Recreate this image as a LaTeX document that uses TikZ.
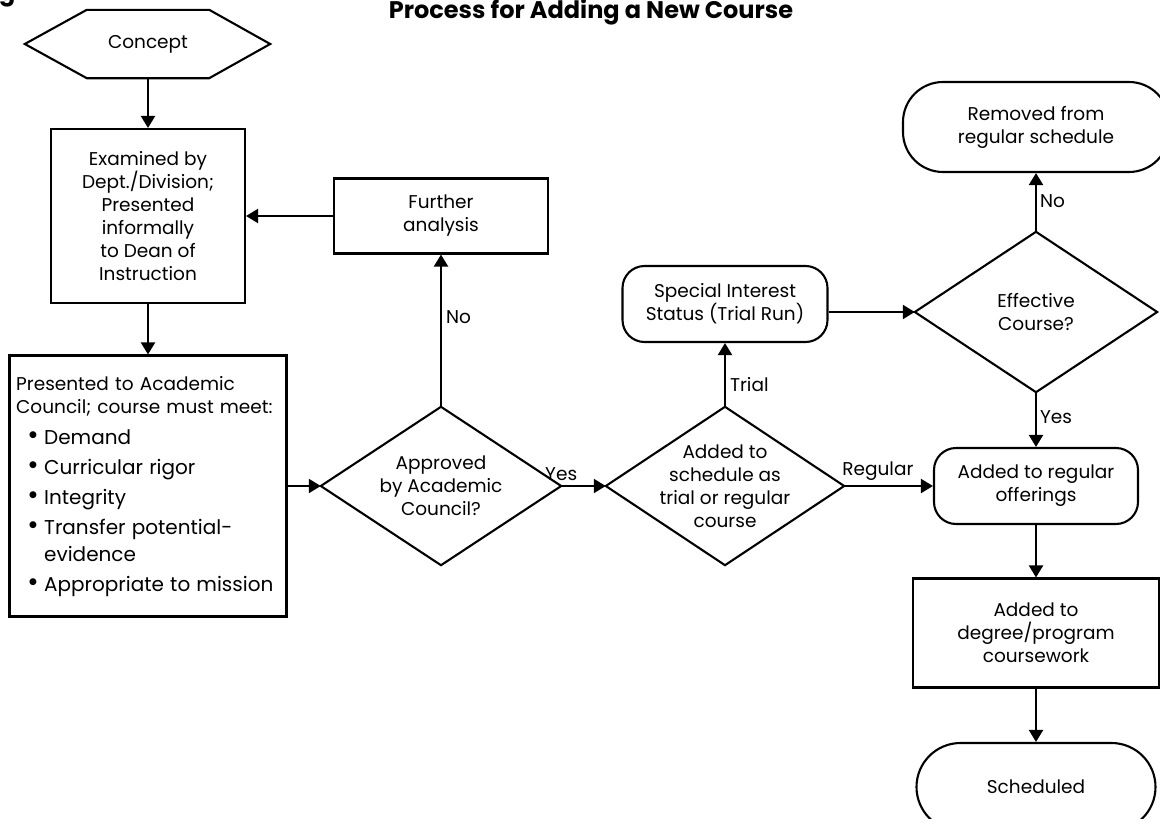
\documentclass[tikz,border=0pt]{standalone}
\usepackage{fontspec}
\setmainfont{Poppins}
\newfontfamily\dvfont{DejaVu Sans}
\usetikzlibrary{arrows.meta}
\newcommand\bul{\makebox[15pt][l]{\raisebox{0.36em}{\dvfont\fontsize{9}{9}\selectfont ●}}}
\begin{document}
\begin{tikzpicture}[x=1pt,y=-1pt,
  every node/.style={font=\fontsize{18.5}{23}\selectfont},
  ln/.style={line width=2.1pt},
  arr/.style={ln,-{Triangle[length=12pt,width=14pt]}},
  box/.style={draw,ln,rectangle,align=center,inner sep=0pt},
  rbox/.style={box,rounded corners=22pt},
  stad/.style={box,rounded corners=40pt},
  ghost/.style={rectangle,align=center,inner sep=0pt},
  lbl/.style={inner sep=1pt,font=\fontsize{18.5}{22}\selectfont}
]
\useasboundingbox (0,0) rectangle (1160,819);

% title
\node[anchor=base,inner sep=0pt,font=\bfseries\fontsize{24}{28}\selectfont] (title) at (591,18) {Process for Adding a New Course};
\node[anchor=base west,inner sep=0pt,font=\bfseries\fontsize{24}{28}\selectfont] (fig) at (-1,1) {g};

% concept hexagon
\node[ghost,minimum width=122pt,minimum height=68pt] (concept) at (148,44) {Concept};
\draw[ln,line join=miter] (concept.north west) -- (concept.north east) -- ([xshift=61pt]concept.east)
  -- (concept.south east) -- (concept.south west) -- ([xshift=-62pt]concept.west) -- cycle;

% examined
\node[box,minimum width=194pt,minimum height=174pt] (exam) at (148,216)
  {Examined by\\Dept./Division;\\Presented\\informally\\to Dean of\\Instruction};

% presented
\node[box,minimum width=277pt,minimum height=261pt] (pres) at (148,486) {};
\node[anchor=north west,inner sep=0pt,text width=270pt,align=left] (prestext) at (16,376)
  {\fontsize{18.5}{23}\selectfont Presented to Academic\\Council; course must meet:\par
   \vspace{1pt}\fontsize{20}{30}\selectfont
   \hspace*{13pt}\bul Demand\\
   \hspace*{13pt}\bul Curricular rigor\\
   \hspace*{13pt}\bul Integrity\\
   \hspace*{13pt}\bul Transfer potential-\\[-3pt]
   \hspace*{28pt}evidence\\
   \hspace*{13pt}\bul Appropriate to mission\par};

% further analysis
\node[box,minimum width=214pt,minimum height=75pt] (further) at (441,216) {Further\\analysis};

% approved diamond
\node[ghost,minimum width=240pt,minimum height=158pt] (appr) at (441,486) {Approved\\by Academic\\Council?};
\draw[ln,line join=miter] (appr.north) -- (appr.east) -- (appr.south) -- (appr.west) -- cycle;

% added diamond
\node[ghost,minimum width=238pt,minimum height=158pt] (added) at (725,486) {Added to\\schedule as\\trial or regular\\course};
\draw[ln,line join=miter] (added.north) -- (added.east) -- (added.south) -- (added.west) -- cycle;

% special interest
\node[rbox,minimum width=205pt,minimum height=76pt] (sis) at (725,304) {Special Interest\\Status (Trial Run)};

% effective diamond
\node[ghost,minimum width=242pt,minimum height=160pt] (eff) at (1036,312) {Effective\\Course?};
\draw[ln,line join=miter] (eff.north) -- (eff.east) -- (eff.south) -- (eff.west) -- cycle;

% removed
\node[stad,minimum width=266pt,minimum height=90pt] (rem) at (1036,127) {Removed from\\regular schedule};

% offerings
\node[rbox,minimum width=204pt,minimum height=76pt] (off) at (1036,486) {Added to regular\\offerings};

% degree
\node[box,minimum width=246pt,minimum height=109pt] (deg) at (1036,633) {Added to\\degree/program\\coursework};

% scheduled
\node[box,rounded corners=44pt,minimum width=239pt,minimum height=88pt] (sch) at (1036,787) {Scheduled};

% connectors
\draw[arr] (concept.south) -- (exam.north);
\draw[arr] (exam.south) -- (pres.north);
\draw[arr] (pres.east) -- (appr.west);
\draw[arr] (appr.north) -- (further.south) node[lbl,pos=0.59,anchor=west,xshift=3pt] {No};
\draw[arr] (further.west) -- (exam.east);
\draw[arr] (appr.east) -- (added.west) node[lbl,pos=0.0,anchor=south,yshift=3pt] {Yes};
\draw[arr] (added.north) -- (sis.south) node[lbl,pos=0.35,anchor=west,xshift=3pt] {Trial};
\draw[arr] (added.east) -- (off.west) node[lbl,pos=0.38,anchor=south,yshift=3pt] {Regular};
\draw[arr] (sis.east |- eff.west) -- (eff.west);
\draw[arr] (eff.north) -- (rem.south) node[lbl,pos=0.53,anchor=west,xshift=2pt] {No};
\draw[arr] (eff.south) -- (off.north) node[lbl,pos=0.46,anchor=west,xshift=2pt] {Yes};
\draw[arr] (off.south) -- (deg.north);
\draw[arr] (deg.south) -- (sch.north);
\end{tikzpicture}
\end{document}
